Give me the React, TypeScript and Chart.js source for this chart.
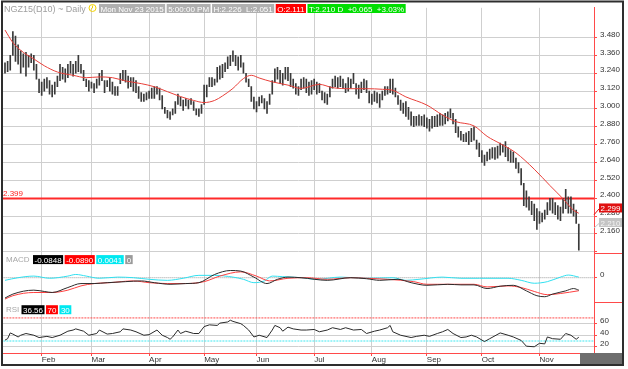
import React, { useEffect, useRef } from 'react';
import { Chart, registerables } from 'chart.js';

Chart.register(...registerables);

// ---------------- data ----------------
const MONTH_LABELS = ['Feb', 'Mar', 'Apr', 'May', 'Jun', 'Jul', 'Aug', 'Sep', 'Oct', 'Nov'];
const MONTH_IDX = [14, 33, 55, 76, 96, 118, 140, 161, 182, 204];

const HIGH = [
  3.31, 3.32, 3.36, 3.52, 3.49, 3.43, 3.39, 3.37, 3.38, 3.36,
  3.37, 3.36, 3.30, 3.20, 3.18, 3.20, 3.21, 3.19, 3.16, 3.18,
  3.22, 3.30, 3.28, 3.27, 3.30, 3.32, 3.30, 3.32, 3.36, 3.30,
  3.26, 3.20, 3.19, 3.18, 3.17, 3.20, 3.24, 3.26, 3.19, 3.19,
  3.21, 3.18, 3.15, 3.15, 3.24, 3.26, 3.26, 3.22, 3.21, 3.21,
  3.19, 3.15, 3.11, 3.10, 3.11, 3.12, 3.14, 3.15, 3.15, 3.14,
  3.09, 3.01, 2.99, 2.98, 3.00, 3.05, 3.10, 3.08, 3.06, 3.07,
  3.06, 3.07, 3.05, 3.00, 3.00, 3.03, 3.16, 3.16, 3.21, 3.21,
  3.20, 3.28, 3.29, 3.30, 3.31, 3.35, 3.36, 3.39, 3.36, 3.35,
  3.36, 3.31, 3.24, 3.20, 3.15, 3.08, 3.05, 3.08, 3.09, 3.07,
  3.05, 3.10, 3.19, 3.27, 3.28, 3.26, 3.24, 3.28, 3.28, 3.24,
  3.20, 3.17, 3.15, 3.20, 3.21, 3.20, 3.18, 3.19, 3.20, 3.18,
  3.17, 3.12, 3.11, 3.10, 3.15, 3.20, 3.22, 3.21, 3.22, 3.20,
  3.17, 3.21, 3.20, 3.24, 3.17, 3.16, 3.18, 3.20, 3.19, 3.12,
  3.10, 3.12, 3.11, 3.10, 3.12, 3.15, 3.15, 3.20, 3.20, 3.14,
  3.09, 3.06, 3.04, 3.05, 3.01, 2.98, 2.95, 2.95, 2.96, 2.95,
  2.96, 2.94, 2.93, 2.95, 2.95, 2.96, 2.97, 2.96, 2.97, 2.98,
  3.00, 2.97, 2.93, 2.88, 2.85, 2.83, 2.84, 2.85, 2.87, 2.88,
  2.79, 2.77, 2.72, 2.69, 2.71, 2.73, 2.74, 2.74, 2.75, 2.77,
  2.76, 2.78, 2.74, 2.72, 2.71, 2.67, 2.64, 2.60, 2.50, 2.45,
  2.41, 2.38, 2.36, 2.33, 2.31, 2.30, 2.32, 2.37, 2.40, 2.40,
  2.37, 2.35, 2.34, 2.40, 2.46, 2.41, 2.41, 2.36, 2.32, 2.226,
];
const LOW = [
  3.24, 3.25, 3.26, 3.36, 3.32, 3.30, 3.24, 3.28, 3.22, 3.28,
  3.31, 3.26, 3.20, 3.11, 3.09, 3.12, 3.14, 3.10, 3.08, 3.10,
  3.15, 3.19, 3.20, 3.18, 3.21, 3.24, 3.22, 3.24, 3.25, 3.24,
  3.19, 3.15, 3.12, 3.14, 3.11, 3.14, 3.16, 3.19, 3.11, 3.15,
  3.12, 3.10, 3.09, 3.09, 3.17, 3.19, 3.18, 3.14, 3.15, 3.12,
  3.11, 3.07, 3.05, 3.05, 3.06, 3.07, 3.07, 3.07, 3.10, 3.06,
  3.00, 2.97, 2.94, 2.93, 2.96, 2.97, 3.03, 3.02, 2.99, 3.02,
  3.00, 3.03, 2.99, 2.96, 2.95, 2.97, 3.03, 3.08, 3.15, 3.15,
  3.16, 3.18, 3.20, 3.21, 3.25, 3.27, 3.29, 3.32, 3.29, 3.26,
  3.28, 3.24, 3.18, 3.15, 3.05, 3.00, 2.98, 3.02, 3.04, 3.00,
  2.97, 3.03, 3.10, 3.18, 3.20, 3.17, 3.16, 3.20, 3.19, 3.15,
  3.14, 3.10, 3.09, 3.13, 3.14, 3.11, 3.09, 3.10, 3.13, 3.10,
  3.11, 3.06, 3.04, 3.03, 3.08, 3.14, 3.15, 3.14, 3.15, 3.14,
  3.11, 3.12, 3.14, 3.17, 3.10, 3.07, 3.11, 3.13, 3.11, 3.04,
  3.03, 3.05, 3.04, 3.01, 3.06, 3.09, 3.10, 3.11, 3.10, 3.08,
  3.03, 2.99, 2.97, 2.95, 2.93, 2.89, 2.88, 2.89, 2.89, 2.89,
  2.88, 2.87, 2.85, 2.87, 2.88, 2.88, 2.89, 2.89, 2.90, 2.92,
  2.94, 2.90, 2.84, 2.81, 2.79, 2.78, 2.78, 2.76, 2.78, 2.79,
  2.73, 2.68, 2.64, 2.62, 2.65, 2.66, 2.67, 2.66, 2.67, 2.69,
  2.71, 2.68, 2.65, 2.64, 2.64, 2.60, 2.57, 2.49, 2.35, 2.34,
  2.32, 2.29, 2.25, 2.19, 2.23, 2.24, 2.26, 2.29, 2.32, 2.30,
  2.29, 2.26, 2.25, 2.30, 2.33, 2.30, 2.30, 2.28, 2.23, 2.051,
];

const MA_IDX = [0, 3, 7, 11, 15, 20, 26, 31, 36, 41, 46, 52, 57, 62, 67, 72, 76, 80, 83, 87, 91, 94, 97, 102, 108, 113, 120, 125, 132, 138, 144, 148, 153, 161, 167, 172, 179, 184, 189, 195, 202, 208, 213, 217, 219];
const MA_VAL = [3.53, 3.446, 3.38, 3.336, 3.29, 3.248, 3.226, 3.21, 3.215, 3.21, 3.188, 3.17, 3.149, 3.116, 3.083, 3.057, 3.043, 3.057, 3.087, 3.138, 3.204, 3.226, 3.208, 3.182, 3.16, 3.138, 3.165, 3.143, 3.136, 3.136, 3.132, 3.125, 3.081, 3.026, 2.959, 2.915, 2.886, 2.816, 2.767, 2.705, 2.595, 2.485, 2.396, 2.319, 2.299];

const MACD_IDX = [0, 3, 11, 15, 18, 24, 29, 34, 39, 46, 52, 57, 63, 69, 74, 80, 86, 90, 95, 100, 104, 108, 113, 123, 132, 138, 143, 150, 155, 161, 169, 174, 179, 184, 189, 194, 199, 203, 206, 209, 214, 217, 219];
const MACD_VAL = [-0.139, -0.112, -0.085, -0.094, -0.101, -0.067, -0.040, -0.040, -0.034, -0.027, -0.022, -0.034, -0.045, -0.040, -0.034, 0.022, 0.049, 0.045, 0.004, -0.040, -0.011, 0.004, 0, -0.018, 0, -0.007, -0.018, -0.011, -0.034, -0.052, -0.045, -0.049, -0.049, -0.074, -0.058, -0.052, -0.090, -0.123, -0.130, -0.112, -0.090, -0.074, -0.0848];

const SIGNAL_IDX = [0, 3, 11, 18, 24, 29, 34, 40, 49, 55, 62, 69, 76, 82, 90, 96, 101, 108, 115, 123, 132, 138, 146, 156, 161, 169, 179, 184, 192, 197, 202, 207, 212, 219];
const SIGNAL_VAL = [-0.146, -0.123, -0.101, -0.101, -0.085, -0.056, -0.040, -0.034, -0.022, -0.034, -0.040, -0.040, -0.027, 0.011, 0.040, 0.011, -0.022, -0.004, 0, -0.011, 0, -0.004, -0.011, -0.027, -0.045, -0.045, -0.045, -0.063, -0.056, -0.067, -0.094, -0.116, -0.108, -0.089];

const HIST_IDX = [0, 5, 11, 17, 24, 27, 31, 36, 43, 49, 55, 62, 68, 74, 80, 87, 91, 95, 99, 102, 106, 113, 119, 128, 138, 148, 153, 158, 167, 174, 181, 192, 197, 202, 207, 212, 215, 219];
const HIST_VAL = [-0.018, 0, 0.011, -0.004, 0.011, 0.022, 0.011, -0.004, 0.004, 0, -0.011, -0.018, -0.004, 0.016, 0.016, 0.004, -0.011, -0.034, -0.022, 0.011, 0.007, 0, -0.011, 0.004, -0.004, 0, -0.018, -0.011, 0.004, -0.004, -0.004, -0.004, -0.018, -0.038, -0.027, 0.004, 0.018, 0.0041];

const RSI_IDX = [0, 1, 2, 3, 5, 6, 8, 11, 13, 16, 18, 21, 24, 26, 27, 30, 32, 35, 36, 39, 41, 44, 45, 48, 50, 53, 55, 58, 60, 62, 63, 64, 66, 67, 69, 72, 74, 76, 78, 81, 82, 85, 86, 87, 90, 91, 93, 95, 97, 100, 102, 103, 105, 106, 108, 110, 113, 115, 118, 120, 123, 125, 128, 130, 133, 136, 138, 141, 143, 146, 147, 148, 151, 155, 157, 160, 162, 165, 167, 169, 171, 174, 176, 178, 180, 183, 185, 189, 192, 194, 197, 199, 202, 204, 206, 207, 209, 212, 214, 216, 218, 219];
const RSI_VAL = [31.5, 34, 44, 42, 37, 40, 43, 40, 36, 38, 36, 40, 47, 49, 51, 47, 40, 43, 49, 42, 43, 46, 51, 49, 46, 40, 41, 49, 40, 36, 33, 37, 49, 43, 47, 43, 43, 55, 58, 57, 61, 63, 66, 64, 60, 57, 49, 37, 40, 36, 49, 57, 53, 47, 54, 51, 49, 49, 50, 46, 49, 53, 50, 53, 49, 50, 43, 47, 49, 53, 57, 46, 40, 36, 38, 40, 38, 43, 46, 50, 43, 36, 37, 40, 37, 29, 34, 44, 40, 37, 31, 21, 20, 26, 25, 37, 34, 33, 43, 40, 33, 36.56];

const PRICE_TICKS = [2.04, 2.16, 2.28, 2.4, 2.52, 2.64, 2.76, 2.88, 3.0, 3.12, 3.24, 3.36, 3.48];
const MACD_TICKS = [0];
const RSI_TICKS = [20, 40, 60];
const RSI_LEVELS = [70, 30];
const SUPPORT_LEVEL = 2.399;
const LAST_CLOSE = 2.21;

const HEADER_TITLE = 'NGZ15(D10) ~ Daily';
const HEADER_TAGS = ['Mon Nov 23 2015', '5:00:00 PM', 'H:2.226  L:2.051', 'O:2.111', 'T:2.210 D  +0.065  +3.03%'];
const MACD_TAGS = ['-0.0848', '-0.0890', '0.0041', '0'];
const RSI_TAGS = ['36.56', '70', '30'];

// ---------------- layout / style ----------------
const X_MIN = -0.763;
const X_MAX = 224.8;
const FONT = '"Liberation Sans", Arial, sans-serif';
const RED = '#ff4a4a';
const GRID = '#cfcfcf';

const overlay = {
  id: 'overlay',
  afterDraw(chart: any) {
    const { ctx, chartArea, scales } = chart;
    const ys = scales.y;
    const ms = scales.macd;
    const rightEdge = 623;
    ctx.save();
    ctx.font = '8px ' + FONT;
    ctx.textBaseline = 'alphabetic';
    ctx.textAlign = 'left';

    // support label
    const sy = ys.getPixelForValue(SUPPORT_LEVEL);
    ctx.fillStyle = '#ff2020';
    ctx.fillText(SUPPORT_LEVEL.toFixed(3), chartArea.left, sy - 2);

    // panel separators in the axis column
    ctx.strokeStyle = RED;
    ctx.lineWidth = 1;
    [ms.top, ms.bottom].forEach((py: number) => {
      const p = Math.round(py) + 0.5;
      ctx.beginPath();
      ctx.moveTo(chartArea.right, p);
      ctx.lineTo(rightEdge, p);
      ctx.stroke();
    });

    // last value tags
    const drawValueTag = (value: number, bg: string, fg: string, dy: number) => {
      const vy = ys.getPixelForValue(value);
      const cy = vy - dy;
      ctx.strokeStyle = bg;
      ctx.beginPath();
      ctx.moveTo(chartArea.right, vy + 1.5);
      ctx.lineTo(chartArea.right + 5, cy + 1);
      ctx.stroke();
      ctx.fillStyle = bg;
      ctx.fillRect(chartArea.right + 5, cy - 4.5, 23, 9);
      ctx.fillStyle = fg;
      ctx.fillText(value.toFixed(3), chartArea.right + 6.5, cy + 3);
    };
    drawValueTag(LAST_CLOSE, '#c4c4c4', '#f4f4f4', 4);
    drawValueTag(MA_VAL[MA_VAL.length - 1], '#e01010', '#ffffff', 5.3);

    // tag rows
    const tagRow = (x: number, top: number, items: [string, string, string][]) => {
      let cx = x;
      for (const [text, bg, fg] of items) {
        const w = ctx.measureText(text).width + 3;
        ctx.fillStyle = bg;
        ctx.fillRect(cx, top, w, 9);
        ctx.fillStyle = fg;
        ctx.fillText(text, cx + 1.5, top + 7.5);
        cx += w + 1.5;
      }
    };

    // header
    ctx.save();
    ctx.font = '9px ' + FONT;
    ctx.fillStyle = '#a0a0a0';
    ctx.fillText(HEADER_TITLE, 4, 12);
    ctx.restore();
    const clockX = 92.5;
    ctx.strokeStyle = '#f2d200';
    ctx.lineWidth = 1;
    ctx.beginPath();
    ctx.arc(clockX, 8, 3.5, 0, Math.PI * 2);
    ctx.stroke();
    ctx.beginPath();
    ctx.moveTo(clockX, 8);
    ctx.lineTo(clockX, 5.5);
    ctx.moveTo(clockX, 8);
    ctx.lineTo(clockX - 1.8, 9.5);
    ctx.stroke();
    const hdrColors = ['#b0b0b0', '#b0b0b0', '#b0b0b0', '#ff0000', '#00dd00'];
    tagRow(99, 4, HEADER_TAGS.map((t, i) => [t, hdrColors[i], '#ffffff'] as [string, string, string]));

    // MACD legend
    ctx.fillStyle = '#a8a8a8';
    ctx.fillText('MACD', 6, ms.top + 9);
    const macdColors: [string, string][] = [['#000000', '#ffffff'], ['#ff0000', '#ffffff'], ['#00e8f0', '#ffffff'], ['#9a9a9a', '#ffffff']];
    tagRow(33, ms.top + 2, MACD_TAGS.map((t, i) => [t, macdColors[i][0], macdColors[i][1]] as [string, string, string]));

    // RSI legend
    const rs = scales.rsi;
    ctx.fillStyle = '#a8a8a8';
    ctx.fillText('RSI', 6, rs.top + 10);
    const rsiColors: [string, string][] = [['#000000', '#ffffff'], ['#ff0000', '#ffffff'], ['#00e8f0', '#ffffff']];
    tagRow(21.5, rs.top + 3.5, RSI_TAGS.map((t, i) => [t, rsiColors[i][0], rsiColors[i][1]] as [string, string, string]));

    // bottom-right grey block
    ctx.fillStyle = '#6e6e6e';
    ctx.fillRect(580, chartArea.bottom, rightEdge - 580, 12);

    // outer frame
    ctx.strokeStyle = '#2e2e2e';
    ctx.lineWidth = 2;
    ctx.strokeRect(2, 1.5, 621, 363.5);
    ctx.restore();
  },
};

export default function App() {
  const ref = useRef<HTMLCanvasElement | null>(null);

  useEffect(() => {
    const canvas = ref.current;
    if (!canvas) return;
    const pts = (xs: number[], vs: number[]) => xs.map((x, i) => ({ x, y: vs[i] }));
    const span = (v: number) => [{ x: X_MIN - 1, y: v }, { x: X_MAX + 1, y: v }];
    const bars = HIGH.map((h, i) => ({ x: i, y: [LOW[i], h] }));
    const tickFont = { family: FONT, size: 8 };

    const chart = new Chart(canvas, {
      type: 'line',
      data: {
        datasets: [
          { type: 'line', data: span(SUPPORT_LEVEL), yAxisID: 'y', borderColor: '#ff2a2a', borderWidth: 2, pointRadius: 0, clip: 0, order: 5 } as any,
          { type: 'bar', data: bars, yAxisID: 'y', backgroundColor: '#3a3a3a', barThickness: 1, borderWidth: 0, grouped: false, order: 4 } as any,
          { type: 'line', data: pts(MA_IDX, MA_VAL), yAxisID: 'y', borderColor: '#e8403a', borderWidth: 1, pointRadius: 0, cubicInterpolationMode: 'monotone', order: 1 } as any,
          { type: 'line', data: span(MACD_TICKS[0]), yAxisID: 'macd', borderColor: '#9a9a9a', borderWidth: 1, borderDash: [1, 1], pointRadius: 0, clip: 0, order: 6 } as any,
          { type: 'line', data: pts(HIST_IDX, HIST_VAL), yAxisID: 'macd', borderColor: '#30e0f0', borderWidth: 1, pointRadius: 0, cubicInterpolationMode: 'monotone', order: 3 } as any,
          { type: 'line', data: pts(SIGNAL_IDX, SIGNAL_VAL), yAxisID: 'macd', borderColor: '#ff4040', borderWidth: 1, pointRadius: 0, cubicInterpolationMode: 'monotone', order: 2 } as any,
          { type: 'line', data: pts(MACD_IDX, MACD_VAL), yAxisID: 'macd', borderColor: '#2a2a2a', borderWidth: 1, pointRadius: 0, cubicInterpolationMode: 'monotone', order: 1 } as any,
          { type: 'line', data: span(RSI_LEVELS[0]), yAxisID: 'rsi', borderColor: '#ff4a4a', borderWidth: 1, borderDash: [2, 1], pointRadius: 0, clip: 0, order: 5 } as any,
          { type: 'line', data: span(RSI_LEVELS[1]), yAxisID: 'rsi', borderColor: '#40e8f0', borderWidth: 1, borderDash: [2, 1], pointRadius: 0, clip: 0, order: 5 } as any,
          { type: 'line', data: pts(RSI_IDX, RSI_VAL), yAxisID: 'rsi', borderColor: '#2a2a2a', borderWidth: 1, pointRadius: 0, tension: 0, order: 1 } as any,
        ],
      },
      options: {
        animation: false,
        responsive: false,
        devicePixelRatio: 1,
        events: [],
        layout: { padding: { left: 3, top: 3, right: 5, bottom: 4 } },
        plugins: { legend: { display: false }, tooltip: { enabled: false } },
        scales: {
          x: {
            type: 'linear',
            min: X_MIN,
            max: X_MAX,
            offset: false,
            afterBuildTicks: (s: any) => { s.ticks = MONTH_IDX.map((v) => ({ value: v })); },
            afterFit: (s: any) => { s.height = 12; },
            ticks: {
              autoSkip: false,
              maxRotation: 0,
              minRotation: 0,
              align: 'start',
              padding: -1,
              font: tickFont,
              color: '#333333',
              callback: (v: any) => MONTH_LABELS[MONTH_IDX.indexOf(Number(v))] ?? '',
            },
            grid: { color: GRID, offset: false, tickColor: RED, tickLength: 3 },
            border: { color: RED, width: 1 },
          },
          y: {
            type: 'linear',
            axis: 'y',
            position: 'right',
            stack: 'panels',
            stackWeight: 248.7,
            min: 2.0314,
            max: 3.6795,
            afterBuildTicks: (s: any) => { s.ticks = PRICE_TICKS.map((v) => ({ value: v })); },
            afterFit: (s: any) => { s.width = 29; },
            ticks: {
              autoSkip: false,
              padding: 3,
              labelOffset: -3,
              font: tickFont,
              color: '#333333',
              callback: (v: any) => (Number(v) === PRICE_TICKS[0] ? '' : Number(v).toFixed(3)),
            },
            grid: { color: GRID, tickColor: RED, tickLength: 3 },
            border: { color: RED, width: 1 },
          },
          macd: {
            type: 'linear',
            axis: 'y',
            position: 'right',
            stack: 'panels',
            stackWeight: 49.3,
            min: -0.164,
            max: 0.168,
            afterBuildTicks: (s: any) => { s.ticks = MACD_TICKS.map((v) => ({ value: v })); },
            afterFit: (s: any) => { s.width = 29; },
            ticks: { autoSkip: false, padding: 3, labelOffset: -2.5, font: tickFont, color: '#333333', callback: (v: any) => String(v) },
            grid: { drawOnChartArea: false, tickColor: RED, tickLength: 3 },
            border: { color: RED, width: 1 },
          },
          rsi: {
            type: 'linear',
            axis: 'y',
            position: 'right',
            stack: 'panels',
            stackWeight: 52,
            min: 9.2,
            max: 98.1,
            afterBuildTicks: (s: any) => { s.ticks = RSI_TICKS.map((v) => ({ value: v })); },
            afterFit: (s: any) => { s.width = 29; },
            ticks: { autoSkip: false, padding: 3, labelOffset: -2.7, font: tickFont, color: '#333333', callback: (v: any) => String(v) },
            grid: { color: GRID, tickColor: RED, tickLength: 3 },
            border: { color: RED, width: 1 },
          },
        },
      } as any,
      plugins: [overlay],
    });
    return () => chart.destroy();
  }, []);

  return (
    <div style={{ position: 'fixed', left: 0, top: 0, width: 628, height: 369, background: '#ffffff' }}>
      <canvas ref={ref} width={628} height={369} style={{ display: 'block', width: 628, height: 369 }} />
    </div>
  );
}
